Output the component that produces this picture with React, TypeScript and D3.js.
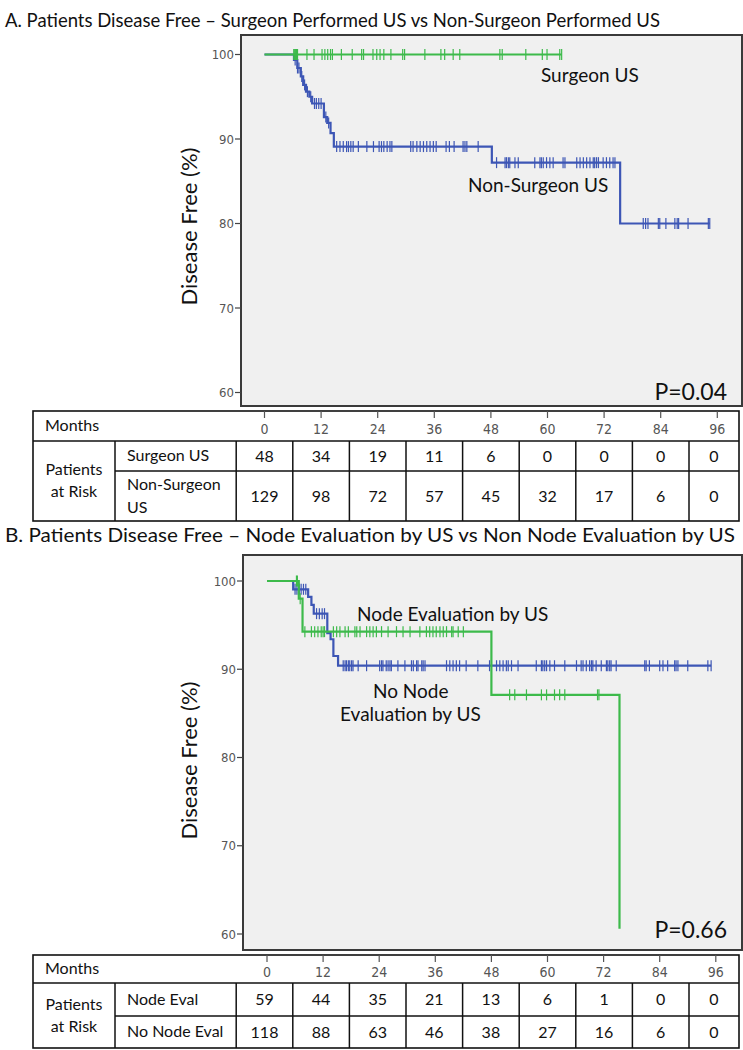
import * as d3 from "d3";

const monthTicks = [0, 12, 24, 36, 48, 60, 72, 84, 96];
const percentTicks = [60, 70, 80, 90, 100];

// Panel A – step curves as [month, % disease free]
const surgeonSteps = [[0, 100], [63, 100]];
const surgeonCensored = [6.2, 6.4, 6.6, 6.8, 7.0, 9.0, 10.5, 12.2, 12.8, 13.4, 14.0, 14.4, 16.3, 18.6, 20.6, 21.0, 23.0, 23.8, 24.5, 25.3, 26.8, 29.3, 29.7, 34.0, 37.4, 38.2, 40.0, 41.4, 49.9, 50.4, 55.4, 58.9, 59.9, 62.6, 63.0];
const nonSurgeonSteps = [[0, 100], [6.25, 99.35], [6.95, 98.4], [7.7, 97.4], [8.2, 96.4], [8.8, 95.6], [9.5, 95.0], [10.1, 94.2], [12.6, 92.6], [13.3, 91.9], [14.0, 90.7], [14.7, 89.1], [48.2, 87.2], [75.4, 80.0], [94.4, 80.0]];
const nonSurgeonCensored = [6.5, 7.0, 7.3, 7.9, 8.5, 9.1, 9.8, 10.6, 11.0, 11.5, 12.0, 13.0, 13.6, 15.3, 16.0, 16.7, 17.4, 17.8, 18.3, 18.8, 19.9, 21.7, 23.1, 24.3, 24.8, 25.3, 26.0, 26.6, 27.0, 31.0, 31.5, 32.3, 33.0, 33.7, 34.4, 35.1, 35.8, 36.4, 38.5, 39.2, 40.2, 42.1, 42.5, 42.9, 45.3, 49.2, 51.0, 51.3, 51.7, 52.0, 53.1, 53.8, 57.3, 58.4, 58.7, 59.1, 59.8, 60.5, 61.2, 63.3, 63.7, 66.2, 66.9, 67.6, 68.3, 69.0, 69.7, 70.0, 70.4, 70.8, 71.8, 72.5, 73.2, 73.9, 74.3, 80.3, 80.8, 81.3, 83.5, 83.8, 85.1, 87.0, 87.5, 87.8, 89.8, 94.1, 94.4];
const surgeonAtRisk = [48, 34, 19, 11, 6, 0, 0, 0, 0];
const nonSurgeonAtRisk = [129, 98, 72, 57, 45, 32, 17, 6, 0];

// Panel B
const nodeEvalSteps = [[0, 100], [6.8, 98.0], [7.6, 94.26], [48.0, 87.1], [75.4, 60.6]];
const nodeEvalCensored = [6.3, 6.5, 7.1, 8.1, 9.5, 10.2, 10.9, 11.6, 12.0, 12.3, 14.2, 14.9, 15.6, 16.7, 17.4, 18.8, 19.2, 19.9, 21.3, 22.0, 22.7, 23.4, 24.5, 25.9, 27.7, 29.1, 30.6, 32.7, 34.1, 34.8, 35.5, 36.2, 37.0, 37.7, 38.4, 39.5, 39.8, 40.9, 42.0, 51.9, 53.0, 55.5, 58.7, 59.8, 61.5, 62.6, 63.7, 70.7, 71.0];
const noNodeEvalSteps = [[0, 100], [5.6, 99.06], [8.8, 98.2], [9.5, 97.3], [10.0, 96.3], [12.9, 94.1], [13.6, 93.4], [14.2, 91.5], [15.2, 90.4], [95.0, 90.4]];
const noNodeEvalCensored = [6.0, 6.4, 6.9, 7.3, 7.8, 8.3, 10.6, 11.2, 11.8, 12.3, 16.3, 16.7, 17.0, 17.4, 17.7, 18.1, 18.4, 19.5, 21.3, 24.1, 24.5, 24.8, 25.5, 25.9, 26.3, 26.6, 28.0, 29.5, 30.9, 31.3, 32.0, 32.3, 33.1, 33.4, 33.8, 38.4, 39.1, 39.8, 40.5, 41.2, 42.6, 45.1, 47.6, 49.1, 49.8, 50.5, 51.2, 51.6, 52.3, 53.7, 57.6, 58.7, 59.0, 59.4, 59.8, 60.5, 61.5, 63.7, 66.2, 67.2, 67.6, 68.3, 69.0, 69.4, 69.7, 70.4, 71.5, 72.6, 72.9, 73.3, 73.6, 74.7, 80.8, 81.1, 81.8, 84.0, 84.7, 85.7, 87.2, 87.5, 87.9, 90.0, 94.3, 95.0];
const nodeEvalAtRisk = [59, 44, 35, 21, 13, 6, 1, 0, 0];
const noNodeEvalAtRisk = [118, 88, 63, 46, 38, 27, 16, 6, 0];

const GREEN = "#3dba4b";
const BLUE = "#3d56b5";
const FONT = "Lato, 'Open Sans', sans-serif";
const NARROW = "'Liberation Sans Narrow', 'Arial Narrow', 'DejaVu Sans Condensed', sans-serif";

const survivalAt = (steps, t) => {
  let v = steps[0][1];
  for (const [st, sv] of steps) if (st <= t) v = sv;
  return v;
};

function Curve({ steps, censored, color, x, y }) {
  const line = d3.line().x(d => x(d[0])).y(d => y(d[1])).curve(d3.curveStepAfter);
  return (
    <g>
      <path d={line(steps)} fill="none" stroke={color} strokeWidth={2.2} />
      {censored.map((t, i) => {
        const cx = x(t), cy = y(survivalAt(steps, t));
        return <line key={i} x1={cx} x2={cx} y1={cy - 5.5} y2={cy + 5.5} stroke={color} strokeWidth={1.2} />;
      })}
    </g>
  );
}

function Panel({ top, box, xRange, yRange, title, titleLen, curves, labels, pText, table }) {
  const x = d3.scaleLinear().domain([0, 96]).range(xRange);
  const y = d3.scaleLinear().domain([60, 100]).range(yRange);
  // table columns follow the month scale of panel A
  const colX = d3.scaleLinear().domain([0, 96]).range([264.5, 717.3]);
  const [r0, r1, r2, r3] = table.rows;
  const bounds = monthTicks.map(m => colX(m - 6)).concat([739]);
  return (
    <g>
      <text x={5} y={top} fontFamily={FONT} fontSize={20} textLength={titleLen} lengthAdjust="spacingAndGlyphs" fill="#111">{title}</text>
      <rect x={box[0]} y={box[1]} width={box[2] - box[0]} height={box[3] - box[1]} fill="#f0f0f0" stroke="#3a3a3a" strokeWidth={2} />
      {percentTicks.map(p => (
        <g key={p}>
          <line x1={box[0] - 6} x2={box[0]} y1={y(p)} y2={y(p)} stroke="#444" strokeWidth={1.2} />
          <text x={box[0] - 7} y={y(p) + 4.5} textAnchor="end" fontFamily={NARROW} fontStretch="condensed" fontSize={13} fill="#555">{p}</text>
        </g>
      ))}
      <text transform={`translate(197,${(yRange[0] + yRange[1]) / 2 + 3}) rotate(-90)`} textAnchor="middle" fontFamily={FONT} fontSize={22} fill="#111">Disease Free (%)</text>
      {curves.map((c, i) => <Curve key={i} {...c} x={x} y={y} />)}
      {labels.map((l, i) => (
        <text key={i} x={l.x} y={l.y} fontFamily={FONT} fontSize={19} fill="#111">{l.text}</text>
      ))}
      <text x={727} y={pText.y} textAnchor="end" fontFamily={FONT} fontSize={23} fill="#111">{pText.text}</text>

      {/* numbers at risk table */}
      <rect x={33} y={r0} width={739 - 33} height={r3 - r0} fill="#fff" stroke="#111" strokeWidth={1.6} />
      <line x1={33} x2={739} y1={r1} y2={r1} stroke="#111" strokeWidth={1.5} />
      <line x1={115} x2={739} y1={r2} y2={r2} stroke="#111" strokeWidth={1.5} />
      <line x1={115} x2={115} y1={r1} y2={r3} stroke="#111" strokeWidth={1.5} />
      {bounds.slice(0, -1).map((bx, i) => (
        <line key={i} x1={bx} x2={bx} y1={r1} y2={r3} stroke="#111" strokeWidth={1.5} />
      ))}
      {monthTicks.map(m => (
        <g key={m}>
          <line x1={x(m)} x2={x(m)} y1={r0} y2={r0 + 7} stroke="#555" strokeWidth={1.2} />
          <text x={x(m)} y={(r0 + r1) / 2 + 8} textAnchor="middle" fontFamily={NARROW} fontStretch="condensed" fontSize={14} fill="#555">{m}</text>
        </g>
      ))}
      <text x={45} y={(r0 + r1) / 2 + 5} fontFamily={FONT} fontSize={16} fill="#111">Months</text>
      <text x={74} y={(r1 + r3) / 2 - 6} textAnchor="middle" fontFamily={FONT} fontSize={16} fill="#111">Patients</text>
      <text x={74} y={(r1 + r3) / 2 + 16} textAnchor="middle" fontFamily={FONT} fontSize={16} fill="#111">at Risk</text>
      {table.names[0].map((s, i) => (
        <text key={i} x={127} y={(r1 + r2) / 2 + 5 + (i - (table.names[0].length - 1) / 2) * 23} fontFamily={FONT} fontSize={16} fill="#111">{s}</text>
      ))}
      {table.names[1].map((s, i) => (
        <text key={i} x={127} y={(r2 + r3) / 2 + 5 + (i - (table.names[1].length - 1) / 2) * 23} fontFamily={FONT} fontSize={16} fill="#111">{s}</text>
      ))}
      {table.values.map((vals, ri) =>
        vals.map((v, ci) => (
          <text key={`${ri}-${ci}`} x={(bounds[ci] + bounds[ci + 1]) / 2} y={(ri === 0 ? (r1 + r2) / 2 : (r2 + r3) / 2) + 5.5} textAnchor="middle" fontFamily={FONT} fontSize={16} fill="#111">{v}</text>
        ))
      )}
    </g>
  );
}

export default function App() {
  return (
    <div style={{ position: "absolute", left: 0, top: 0 }}>
      <svg width={743} height={1050} style={{ display: "block", background: "#fff" }}>
        <Panel
          top={27}
          box={[241, 35, 742, 406]}
          xRange={[264.5, 717.3]}
          yRange={[392.5, 54.5]}
          title="A. Patients Disease Free – Surgeon Performed US vs Non-Surgeon Performed US"
          titleLen={655}
          curves={[
            { steps: nonSurgeonSteps, censored: nonSurgeonCensored, color: BLUE },
            { steps: surgeonSteps, censored: surgeonCensored, color: GREEN },
          ]}
          labels={[
            { text: "Surgeon US", x: 541, y: 82 },
            { text: "Non-Surgeon US", x: 468, y: 192 },
          ]}
          pText={{ text: "P=0.04", y: 400 }}
          table={{
            rows: [411, 441, 471, 521],
            names: [["Surgeon US"], ["Non-Surgeon", "US"]],
            values: [surgeonAtRisk, nonSurgeonAtRisk],
          }}
        />
        <Panel
          top={542}
          box={[243, 555, 742, 950]}
          xRange={[267, 715.8]}
          yRange={[934, 581]}
          title="B. Patients Disease Free – Node Evaluation by US vs Non Node Evaluation by US"
          titleLen={730}
          curves={[
            { steps: noNodeEvalSteps, censored: noNodeEvalCensored, color: BLUE },
            { steps: nodeEvalSteps, censored: nodeEvalCensored, color: GREEN },
          ]}
          labels={[
            { text: "Node Evaluation by US", x: 357, y: 621 },
            { text: "No Node", x: 373, y: 698 },
            { text: "Evaluation by US", x: 340, y: 721 },
          ]}
          pText={{ text: "P=0.66", y: 938 }}
          table={{
            rows: [955, 983, 1016, 1048],
            names: [["Node Eval"], ["No Node Eval"]],
            values: [nodeEvalAtRisk, noNodeEvalAtRisk],
          }}
        />
      </svg>
    </div>
  );
}
